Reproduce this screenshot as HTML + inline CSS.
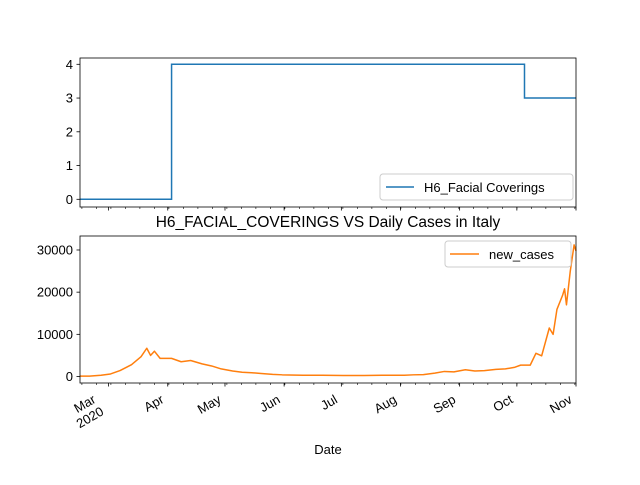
<!DOCTYPE html>
<html><head><meta charset="utf-8"><style>
body{margin:0;background:#fff}
svg text{font-family:"Liberation Sans","DejaVu Sans",sans-serif;font-size:13px;fill:#000}
</style></head><body>
<svg id="c" width="640" height="480"></svg>
<script>
const facialDays=[0,48,48,233,233,260];
const facialValues=[0,0,4,4,3,3];
const caseDays=[0,5,11,16,21,27,32,35,37,39,42,48,53,58,64,69,74,80,85,90,95,101,106,117,127,138,149,159,164,170,175,180,186,191,196,202,207,212,218,223,228,231,236,239,242,246,248,250,253,254,255,257,259,260];
const caseValues=[100,100,300,600,1400,2800,4700,6700,5000,6000,4300,4300,3500,3800,3000,2500,1800,1300,1000,900,700,500,400,300,300,250,250,300,300,300,400,450,800,1200,1100,1600,1300,1400,1700,1800,2200,2700,2700,5500,4900,11500,10000,15900,19300,20800,17000,25000,31200,29800];
const monthLabels=["Mar","Apr","May","Jun","Jul","Aug","Sep","Oct","Nov"];
const monthDays=[15,46,76,107,137,168,199,229,260];
const topTicks=[0,1,2,3,4];
const botTicks=[0,10000,20000,30000];
const NS="http://www.w3.org/2000/svg",svg=document.getElementById('c');
function el(t,a,txt){const e=document.createElementNS(NS,t);for(const k in a)e.setAttribute(k,a[k]);if(txt!==undefined)e.textContent=txt;svg.appendChild(e);return e;}
const X0=80,X1=576;
const xs=d=>X0+d*(X1-X0)/260;
const yTop=v=>199.3-v*33.75;
const yBot=v=>376.5-v*42.17/10000;
let p=facialDays.map((d,i)=>(i?'L':'M')+xs(d)+','+yTop(facialValues[i])).join('');
let e=el('path',{d:p,fill:'none',stroke:'#1f77b4','stroke-width':1.5});


e=el('rect',{x:X0,y:58,width:X1-X0,height:149,fill:'none',stroke:'#000','stroke-width':0.8});


topTicks.forEach(v=>{el('line',{x1:X0-3.5,x2:X0,y1:yTop(v),y2:yTop(v),stroke:'#000','stroke-width':0.8});
 e=el('text',{x:X0-7,y:yTop(v)+4.5,'text-anchor':'end'},v);
 
 });
p=caseDays.map((d,i)=>(i?'L':'M')+xs(d)+','+yBot(caseValues[i])).join('');
e=el('path',{d:p,fill:'none',stroke:'#ff7f0e','stroke-width':1.5,'stroke-linejoin':'round'});


e=el('rect',{x:X0,y:236,width:X1-X0,height:147,fill:'none',stroke:'#000','stroke-width':0.8});


botTicks.forEach(v=>{el('line',{x1:X0-3.5,x2:X0,y1:yBot(v),y2:yBot(v),stroke:'#000','stroke-width':0.8});
 e=el('text',{x:X0-7,y:yBot(v)+4.5,'text-anchor':'end'},v);
 
 });
for(let d=1;d<=260;d+=7.6){[207,383].forEach(y=>el('line',{x1:xs(d),x2:xs(d),y1:y,y2:y+2,stroke:'#000','stroke-width':0.6}));}
monthDays.forEach((d,i)=>{[207,383].forEach(y=>el('line',{x1:xs(d),x2:xs(d),y1:y,y2:y+3.5,stroke:'#000','stroke-width':0.8}));
 const x=xs(d);
 if(i==0){
  e=el('text',{x:x-12,y:402,'text-anchor':'end',transform:`rotate(-30 ${x-12} 402)`},monthLabels[i]);
  
  
  e=el('text',{x:x-4,y:414,'text-anchor':'end',transform:`rotate(-30 ${x-4} 414)`},'2020');
  
  
 } else {
  e=el('text',{x:x-3,y:402,'text-anchor':'end',transform:`rotate(-30 ${x-3} 402)`},monthLabels[i]);
  
  
 }
});
e=el('text',{x:328,y:227,'text-anchor':'middle',style:'font-size:15.5px'},'H6_FACIAL_COVERINGS VS Daily Cases in Italy');


e=el('text',{x:328,y:454,'text-anchor':'middle'},'Date');


e=el('rect',{x:380,y:174,width:193,height:26,rx:3,fill:'#fff','fill-opacity':0.8,stroke:'#ccc'});


el('line',{x1:386,x2:414,y1:187,y2:187,stroke:'#1f77b4','stroke-width':1.5});
e=el('text',{x:424,y:192},'H6_Facial Coverings');


e=el('rect',{x:445,y:241,width:126,height:26,rx:3,fill:'#fff','fill-opacity':0.8,stroke:'#ccc'});


el('line',{x1:450,x2:479,y1:254,y2:254,stroke:'#ff7f0e','stroke-width':1.5});
e=el('text',{x:489,y:259},'new_cases');


</script>
</body></html>
